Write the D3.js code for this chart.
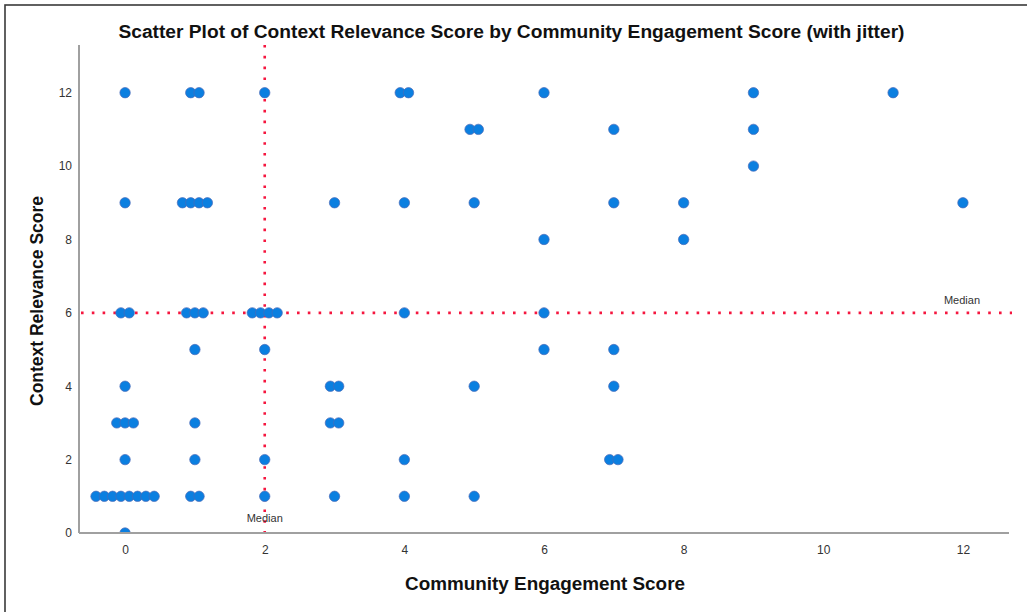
<!DOCTYPE html>
<html>
<head>
<meta charset="utf-8">
<script src="https://cdn.jsdelivr.net/npm/d3@7"></script>
<style>
  html, body { margin: 0; padding: 0; background: #fff; }
  svg { display: block; font-family: "Liberation Sans", Arial, sans-serif; }
</style>
</head>
<body>
<svg id="chart" width="1027" height="612"></svg>
<script>
// ---- Data (grouped points: engagement score, relevance score, number of stacked points) ----
const engagementScore = [0,0,0,0,0,0,0,0, 1,1,1,1,1,1,1, 2,2,2,2,2, 3,3,3,3, 4,4,4,4,4, 5,5,5,5, 6,6,6,6, 7,7,7,7,7, 8,8, 9,9,9, 11, 12];
const relevanceScore  = [12,9,6,4,3,2,1,0, 12,9,6,5,3,2,1, 12,6,5,2,1, 9,4,3,1, 12,9,6,2,1, 11,9,4,1, 12,8,6,5, 11,9,5,4,2, 9,8, 12,11,10, 12, 9];
const pointCount      = [1,1,2,1,3,1,8,1, 2,4,3,1,1,1,2, 1,4,1,1,1, 1,2,2,1, 2,1,1,1,1, 2,1,1,1, 1,1,1,1, 1,1,1,1,2, 1,1, 1,1,1, 1, 1];
const medianEngagement = 2;
const medianRelevance = 6;
const xTicks = [0, 2, 4, 6, 8, 10, 12];
const yTicks = [0, 2, 4, 6, 8, 10, 12];
const titleText = "Scatter Plot of Context Relevance Score by Community Engagement Score (with jitter)";
const xLabel = "Community Engagement Score";
const yLabel = "Context Relevance Score";

// jitter spacing within a stacked row (in x data units)
const jitterStep = 0.119;

(function () {
const svg = d3.select("#chart");
const W = 1027, H = 612;

const pLeft = 79, pRight = 1009, pTop = 45, pBottom = 533;
const x = d3.scaleLinear().domain([-0.66, 12.66]).range([pLeft, pRight]);
const y = d3.scaleLinear().domain([0, 13.3]).range([pBottom, pTop]);

// frame
svg.append("rect").attr("x", 5).attr("y", 5).attr("width", W + 20).attr("height", H + 20)
  .attr("fill", "none").attr("stroke", "#3a3a3a").attr("stroke-width", 1.6);

// expand points
const points = [];
engagementScore.forEach((ex, i) => {
  const n = pointCount[i];
  for (let k = 0; k < n; k++) {
    points.push({ x: ex + (k - (n - 1) / 2) * jitterStep, y: relevanceScore[i] });
  }
});

svg.append("defs").append("clipPath").attr("id", "plotclip")
  .append("rect").attr("x", pLeft).attr("y", 0).attr("width", W - pLeft).attr("height", pBottom);

// median lines
const med = svg.append("g").attr("stroke", "#f5163f").attr("stroke-width", 2.6)
  .attr("stroke-dasharray", "2.6,8.2").attr("fill", "none");
med.append("line").attr("x1", x(medianEngagement)).attr("x2", x(medianEngagement))
  .attr("y1", pTop).attr("y2", pBottom);
med.append("line").attr("x1", pLeft + 2).attr("x2", 1012)
  .attr("y1", y(medianRelevance)).attr("y2", y(medianRelevance));

// points
svg.append("g").attr("clip-path", "url(#plotclip)")
  .selectAll("circle").data(points).enter().append("circle")
  .attr("cx", d => x(d.x)).attr("cy", d => y(d.y)).attr("r", 5.2)
  .attr("fill", "#0b7fe0").attr("stroke", "#4a6ab8").attr("stroke-width", 0.7);

// axes
const xAxis = svg.append("g").attr("transform", `translate(0,${pBottom})`)
  .call(d3.axisBottom(x).tickValues(xTicks).tickSize(0).tickPadding(12).tickFormat(d3.format("d")));
const yAxis = svg.append("g").attr("transform", `translate(${pLeft},0)`)
  .call(d3.axisLeft(y).tickValues(yTicks).tickSize(0).tickPadding(7).tickFormat(d3.format("d")));
[xAxis, yAxis].forEach(a => {
  a.select(".domain").attr("stroke", "#a0a0a0").attr("stroke-width", 2);
  a.selectAll("text").attr("font-size", 12).attr("fill", "#333")
    .attr("font-family", "'Liberation Sans', Arial, sans-serif");
});
xAxis.select(".domain").attr("d", `M${pLeft},0H${pRight}`);
yAxis.select(".domain").attr("d", `M0,${pTop}V${pBottom}`);

// median labels
svg.append("text").attr("x", x(medianEngagement)).attr("y", 522).attr("text-anchor", "middle")
  .attr("font-size", 11).attr("fill", "#333").text("Median");
svg.append("text").attr("x", 962).attr("y", y(medianRelevance) - 9).attr("text-anchor", "middle")
  .attr("font-size", 11).attr("fill", "#333").text("Median");

// title and axis labels
svg.append("text").attr("x", 511.5).attr("y", 38).attr("text-anchor", "middle")
  .attr("font-size", 17.5).attr("font-weight", "bold").attr("fill", "#111")
  .attr("textLength", 786).attr("lengthAdjust", "spacingAndGlyphs").text(titleText);
svg.append("text").attr("x", 545).attr("y", 590).attr("text-anchor", "middle")
  .attr("font-size", 17.5).attr("font-weight", "bold").attr("fill", "#111")
  .attr("textLength", 280).attr("lengthAdjust", "spacingAndGlyphs").text(xLabel);
svg.append("text").attr("transform", "translate(43,301) rotate(-90)").attr("text-anchor", "middle")
  .attr("font-size", 17.5).attr("font-weight", "bold").attr("fill", "#111")
  .attr("textLength", 210).attr("lengthAdjust", "spacingAndGlyphs").text(yLabel);
})();
</script>
</body>
</html>
